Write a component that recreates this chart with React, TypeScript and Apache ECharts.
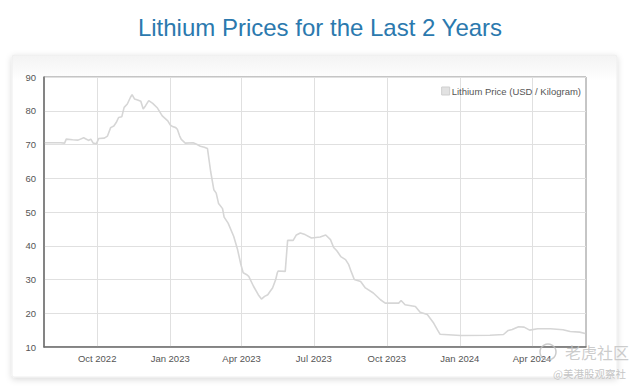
import React, { useEffect, useRef } from "react";
import * as echarts from "echarts";

const dates: string[] = [
  "2022-07-27", "2022-08-16", "2022-08-21", "2022-08-23", "2022-08-31", "2022-09-07",
  "2022-09-14", "2022-09-18", "2022-09-20", "2022-09-23", "2022-09-26", "2022-09-30",
  "2022-10-03", "2022-10-10", "2022-10-14", "2022-10-18", "2022-10-22", "2022-10-25",
  "2022-10-28", "2022-11-01", "2022-11-04", "2022-11-08", "2022-11-12", "2022-11-14",
  "2022-11-17", "2022-11-21", "2022-11-25", "2022-11-28", "2022-12-01", "2022-12-05",
  "2022-12-10", "2022-12-16", "2022-12-22", "2022-12-29", "2023-01-01", "2023-01-04",
  "2023-01-08", "2023-01-10", "2023-01-13", "2023-01-15", "2023-01-20", "2023-01-30",
  "2023-02-04", "2023-02-08", "2023-02-13", "2023-02-17", "2023-02-21", "2023-02-25",
  "2023-02-28", "2023-03-03", "2023-03-08", "2023-03-10", "2023-03-15", "2023-03-22",
  "2023-03-27", "2023-03-31", "2023-04-03", "2023-04-07", "2023-04-10", "2023-04-16",
  "2023-04-22", "2023-04-26", "2023-04-30", "2023-05-04", "2023-05-07", "2023-05-10",
  "2023-05-14", "2023-05-16", "2023-05-17", "2023-05-26", "2023-05-29", "2023-06-05",
  "2023-06-09", "2023-06-14", "2023-06-20", "2023-06-28", "2023-07-09", "2023-07-16",
  "2023-07-22", "2023-07-26", "2023-07-30", "2023-08-04", "2023-08-10", "2023-08-14",
  "2023-08-17", "2023-08-21", "2023-08-29", "2023-09-04", "2023-09-14", "2023-09-23",
  "2023-09-29", "2023-10-16", "2023-10-19", "2023-10-24", "2023-11-06", "2023-11-12",
  "2023-11-21", "2023-11-29", "2023-12-04", "2023-12-07", "2024-01-02", "2024-02-08",
  "2024-02-25", "2024-03-02", "2024-03-07", "2024-03-15", "2024-03-22", "2024-03-29",
  "2024-04-08", "2024-04-24", "2024-05-10", "2024-05-19", "2024-05-31", "2024-06-07",
];

const prices: number[] = [
  70.5, 70.5, 70.4, 71.6, 71.4, 71.3,
  72.0, 71.5, 71.2, 71.6, 70.4, 70.2,
  71.8, 71.9, 72.5, 75.0, 75.5, 76.5,
  78.0, 78.2, 81.0, 82.0, 84.0, 84.8,
  83.5, 83.2, 82.8, 80.5, 81.5, 83.0,
  82.2, 80.8, 78.5, 77.0, 75.8, 75.3,
  75.0, 74.5, 72.5, 71.5, 70.4, 70.5,
  70.0, 69.5, 69.2, 68.8, 62.0, 56.6,
  55.6, 52.5, 51.0, 48.5, 46.7, 42.8,
  38.8, 34.5, 32.0, 31.5, 30.9, 28.0,
  25.5, 24.2, 25.0, 25.5, 26.5, 27.5,
  30.0, 32.0, 32.5, 32.4, 41.6, 41.6,
  43.2, 43.8, 43.3, 42.3, 42.6, 43.2,
  41.8, 39.5, 38.5, 36.8, 35.9, 34.4,
  32.4, 30.0, 29.4, 27.5, 26.0, 24.0,
  23.0, 23.0, 23.8, 22.5, 22.0, 20.3,
  19.6, 17.1, 15.0, 13.8, 13.4, 13.5,
  13.7, 14.9, 15.2, 16.0, 15.9, 15.0,
  15.4, 15.4, 15.1, 14.6, 14.4, 14.0,
];

const tickDates: string[] = [
  "2022-10-01", "2023-01-01", "2023-04-01", "2023-07-01",
  "2023-10-01", "2024-01-01", "2024-04-01",
];

const axisStart = "2022-07-26";
const axisEnd = "2024-06-08";
const monthNames = ["Jan", "Feb", "Mar", "Apr", "May", "Jun", "Jul", "Aug", "Sep", "Oct", "Nov", "Dec"];

const seriesName = "Lithium Price (USD / Kilogram)";
const titleText = "Lithium Prices for the Last 2 Years";

function toTs(s: string): number {
  const [y, m, d] = s.split("-").map(Number);
  return new Date(y, m - 1, d).getTime();
}

export default function App() {
  const ref = useRef<HTMLDivElement>(null);

  useEffect(() => {
    if (!ref.current) return;
    const chart = echarts.init(ref.current, null, { renderer: "svg" });
    const data = dates.map((d, i) => [toTs(d), prices[i]]);
    const ticks = tickDates.map(toTs);

    chart.setOption({
      animation: false,
      backgroundColor: "#ffffff",
      title: {
        text: titleText,
        left: "center",
        top: 10,
        textStyle: {
          color: "#2b79ae",
          fontSize: 24,
          fontWeight: "normal",
          fontFamily: "Liberation Sans, Arial, sans-serif",
        },
      },
      graphic: [
        {
          type: "rect",
          z: -10,
          silent: true,
          shape: { x: 12, y: 55, width: 605, height: 322, r: 2 },
          style: {
            fill: new echarts.graphic.LinearGradient(0, 0, 0, 1, [
              { offset: 0, color: "#f3f3f3" },
              { offset: 0.08, color: "#ffffff" },
              { offset: 1, color: "#ffffff" },
            ]),
            stroke: "#eeeeee",
            lineWidth: 1,
            shadowBlur: 6,
            shadowColor: "rgba(0,0,0,0.15)",
            shadowOffsetY: 2,
          },
        },
        {
          type: "circle",
          z: 100,
          silent: true,
          shape: { cx: 548, cy: 352, r: 8 },
          style: { fill: "none", stroke: "rgba(190,190,190,0.8)", lineWidth: 1.5 },
        },
        {
          type: "text",
          z: 100,
          silent: true,
          x: 565,
          y: 344,
          style: {
            text: "老虎社区",
            fill: "rgba(195,195,195,0.85)",
            font: '16px "Noto Sans CJK SC", sans-serif',
          },
        },
        {
          type: "text",
          z: 100,
          silent: true,
          x: 553,
          y: 368,
          style: {
            text: "@美港股观察社",
            fill: "rgba(190,190,190,0.9)",
            font: '10.5px "Noto Sans CJK SC", sans-serif',
          },
        },
      ],
      legend: {
        show: true,
        right: 54,
        top: 81,
        itemWidth: 8,
        itemHeight: 8,
        icon: "rect",
        data: [seriesName],
        textStyle: {
          color: "#555",
          fontSize: 9.5,
          fontFamily: "Liberation Sans, Arial, sans-serif",
          padding: [0, 0, 0, -3],
        },
        itemStyle: { color: "#e2e2e2", borderColor: "#cfcfcf", borderWidth: 1 },
      },
      grid: {
        left: 44,
        right: 54,
        top: 77,
        bottom: 42,
        show: true,
        borderColor: "#8c8c8c",
        borderWidth: 1,
        backgroundColor: "#ffffff",
        containLabel: false,
      },
      xAxis: {
        type: "value",
        min: toTs(axisStart),
        max: toTs(axisEnd),
        axisLine: { show: true, onZero: false, lineStyle: { color: "#6e6e6e", width: 1.5 } },
        axisTick: { show: false, customValues: ticks },
        axisLabel: {
          customValues: ticks,
          color: "#555",
          fontSize: 9.5,
          margin: 6,
          fontFamily: "Liberation Sans, Arial, sans-serif",
          formatter: (v: number) => {
            const d = new Date(v);
            return `${monthNames[d.getMonth()]} ${d.getFullYear()}`;
          },
        },
        splitLine: { show: true, lineStyle: { color: "#e0e0e0", width: 1 } },
      },
      yAxis: {
        type: "value",
        min: 10,
        max: 90,
        interval: 10,
        axisLine: { show: true, onZero: false, lineStyle: { color: "#6e6e6e", width: 1.5 } },
        axisTick: { show: false },
        axisLabel: {
          color: "#555",
          fontSize: 9.5,
          margin: 8,
          fontFamily: "Liberation Sans, Arial, sans-serif",
        },
        splitLine: { show: true, lineStyle: { color: "#e0e0e0", width: 1 } },
      },
      series: [
        {
          name: seriesName,
          type: "line",
          data,
          showSymbol: false,
          symbol: "none",
          lineStyle: { color: "#d6d6d6", width: 1.6 },
          itemStyle: { color: "#e2e2e2" },
        },
      ],
    });
    return () => chart.dispose();
  }, []);

  return (
    <div
      ref={ref}
      style={{ position: "fixed", left: 0, top: 0, width: 640, height: 389 }}
    />
  );
}
